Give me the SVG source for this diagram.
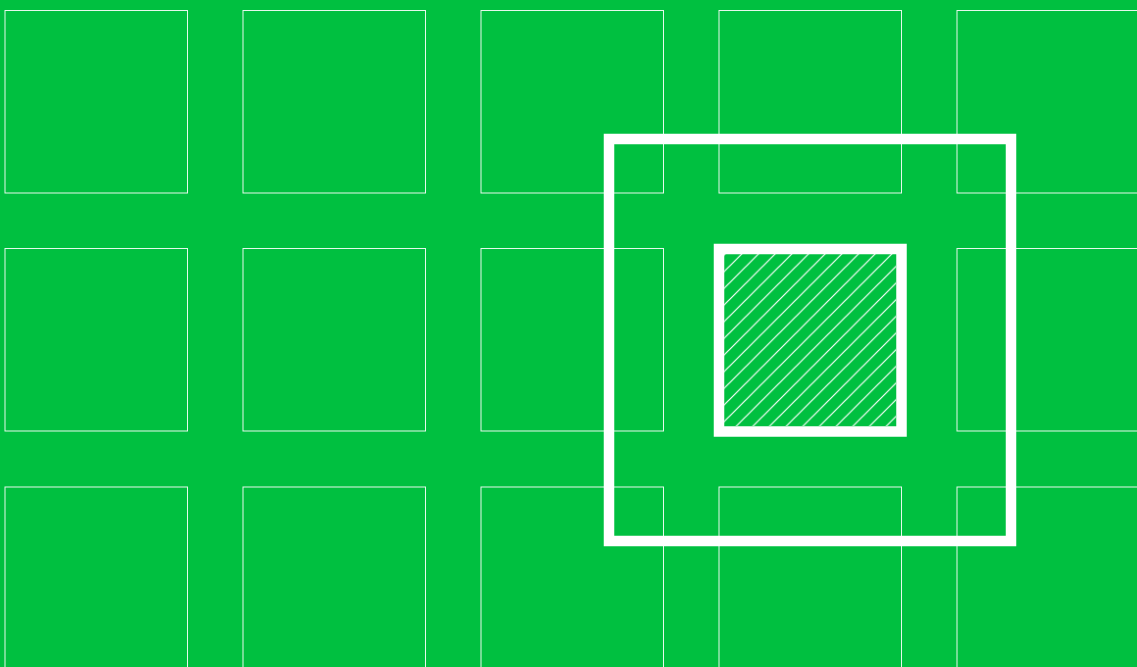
<svg xmlns="http://www.w3.org/2000/svg" width="1137" height="667" viewBox="0 0 1137 667">
  <style>
    .cell { fill: none; stroke: #ffffff; stroke-width: 1; stroke-opacity: 0.9; }
    .frame { fill: none; stroke: #ffffff; stroke-width: 10.5; }
  </style>
  <defs>
    <pattern id="hatch" patternUnits="userSpaceOnUse" x="12.4" y="0" width="16.667" height="16.667">
      <path d="M0,16.667 L16.667,0 M-2,2 L2,-2 M14.667,18.667 L18.667,14.667" stroke="#ffffff" stroke-width="1.2"/>
    </pattern>
  </defs>
  <rect x="0" y="0" width="1137" height="667" fill="#00c040"/>
  <g id="grid">
    <rect class="cell" x="5" y="10.5" width="182.5" height="182.5"/>
    <rect class="cell" x="243" y="10.5" width="182.5" height="182.5"/>
    <rect class="cell" x="481" y="10.5" width="182.5" height="182.5"/>
    <rect class="cell" x="719" y="10.5" width="182.5" height="182.5"/>
    <rect class="cell" x="957" y="10.5" width="182.5" height="182.5"/>
    <rect class="cell" x="5" y="248.5" width="182.5" height="182.5"/>
    <rect class="cell" x="243" y="248.5" width="182.5" height="182.5"/>
    <rect class="cell" x="481" y="248.5" width="182.5" height="182.5"/>
    <rect class="cell" x="957" y="248.5" width="182.5" height="182.5"/>
    <rect class="cell" x="5" y="487" width="182.5" height="182.5"/>
    <rect class="cell" x="243" y="487" width="182.5" height="182.5"/>
    <rect class="cell" x="481" y="487" width="182.5" height="182.5"/>
    <rect class="cell" x="719" y="487" width="182.5" height="182.5"/>
    <rect class="cell" x="957" y="487" width="182.5" height="182.5"/>
  </g>
  <g id="selected-cell">
    <rect x="724" y="254" width="172" height="172" fill="url(#hatch)"/>
    <rect class="frame" x="719" y="249" width="182.5" height="182.5"/>
  </g>
  <g id="window">
    <rect class="frame" x="609" y="139" width="402" height="402"/>
  </g>
</svg>
